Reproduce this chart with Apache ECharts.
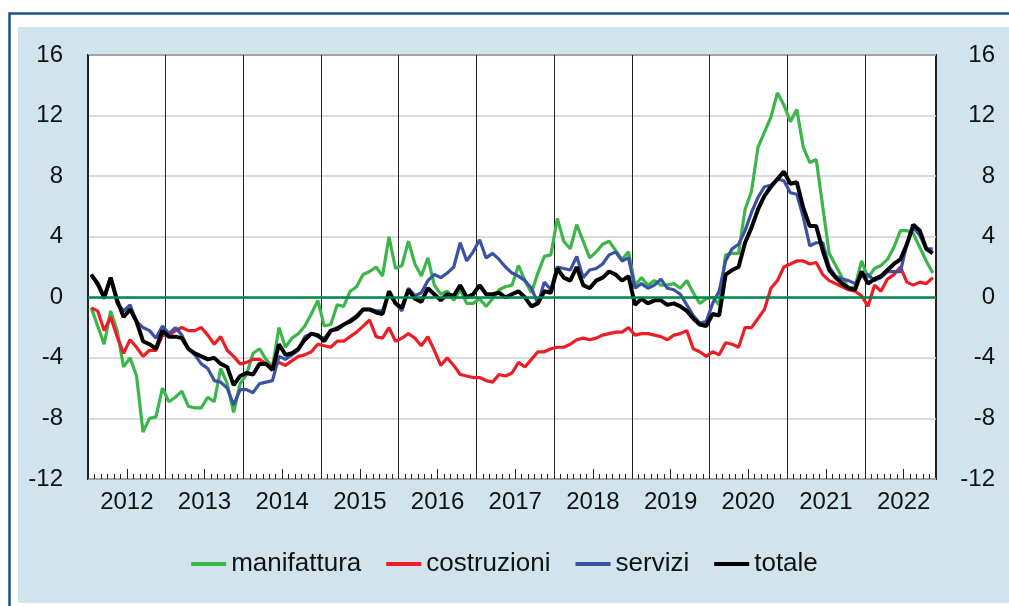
<!DOCTYPE html>
<html>
<head>
<meta charset="utf-8">
<script src="https://cdn.jsdelivr.net/npm/echarts@6.0.0/dist/echarts.min.js"></script>
<style>
  html, body { margin: 0; padding: 0; background: #fff; }
  #chartmain { width: 1009px; height: 606px; }
</style>
</head>
<body>
<div id="chartmain"></div>
<script>
// monthly data, Jan 2012 - Nov 2022
var years = ['2012', '2013', '2014', '2015', '2016', '2017', '2018', '2019', '2020', '2021', '2022'];

var manifattura = [
  -0.7, -1.9, -3.1, -0.9, -2.2, -4.6, -4.0, -5.2, -8.9, -8.0, -7.9, -6.0,
  -6.9, -6.6, -6.2, -7.2, -7.3, -7.3, -6.6, -6.9, -4.7, -5.7, -7.6, -5.7,
  -5.1, -3.7, -3.4, -4.1, -4.6, -2.0, -3.3, -2.7, -2.4, -1.9, -1.1, -0.2,
  -1.9, -1.8, -0.5, -0.6, 0.4, 0.7, 1.5, 1.7, 2.0, 1.4, 4.0, 1.9,
  2.1, 3.7, 2.2, 1.4, 2.6, 0.8, 0.2, 0.4, -0.2, 0.5, -0.4, -0.4,
  -0.1, -0.6, -0.1, 0.5, 0.7, 0.8, 2.1, 1.1, 0.3, 1.6, 2.7, 2.8,
  5.2, 3.7, 3.2, 4.8, 3.7, 2.6, 3.0, 3.5, 3.7, 3.1, 2.5, 3.0,
  0.8, 1.3, 0.8, 1.1, 0.8, 0.8, 0.9, 0.6, 1.1, 0.3, -0.4, -0.1,
  0.0, -0.5, 2.8, 2.9, 2.9, 5.8, 7.0, 9.9, 10.9, 11.9, 13.5, 12.7,
  11.6, 12.4, 9.9, 8.9, 9.1, 6.0, 2.9, 2.1, 1.3, 0.6, 0.7, 2.4,
  1.3, 1.9, 2.1, 2.5, 3.3, 4.4, 4.4, 4.2, 3.3, 2.4, 1.6
];

var costruzioni = [
  -0.7, -0.9, -2.2, -1.3, -2.6, -3.7, -2.8, -3.3, -3.9, -3.5, -3.5, -2.5,
  -2.5, -2.2, -2.0, -2.2, -2.2, -2.0, -2.5, -3.1, -2.6, -3.5, -3.9, -4.4,
  -4.3, -4.1, -4.1, -4.4, -4.6, -4.3, -4.5, -4.2, -3.9, -3.8, -3.6, -3.1,
  -3.2, -3.3, -2.9, -2.9, -2.6, -2.3, -1.9, -1.5, -2.6, -2.7, -2.0, -2.9,
  -2.7, -2.4, -2.7, -3.2, -2.6, -3.5, -4.5, -4.0, -4.5, -5.1, -5.2, -5.3,
  -5.3, -5.5, -5.6, -5.1, -5.2, -5.0, -4.3, -4.6, -4.1, -3.6, -3.6, -3.4,
  -3.3, -3.3, -3.1, -2.8, -2.7, -2.8, -2.7, -2.5, -2.4, -2.3, -2.3, -2.0,
  -2.5, -2.4, -2.4, -2.5, -2.6, -2.8, -2.5, -2.4, -2.2, -3.4, -3.6, -3.9,
  -3.6, -3.8, -3.0, -3.1, -3.3, -2.0, -2.0, -1.4, -0.8, 0.6, 1.1, 2.0,
  2.2, 2.4, 2.4, 2.2, 2.3, 1.5, 1.1, 0.9, 0.7, 0.5, 0.4, 0.1,
  -0.6, 0.8, 0.4, 1.2, 1.5, 2.0, 1.0, 0.8, 1.0, 0.9, 1.3
];

var servizi = [
  1.5, 0.8, -0.1, 1.3, -0.4, -0.9, -0.5, -1.6, -2.0, -2.2, -2.7, -1.9,
  -2.4, -2.0, -2.5, -3.4, -3.8, -4.4, -4.7, -5.5, -5.6, -6.0, -7.1, -6.1,
  -6.1, -6.3, -5.7, -5.6, -5.5, -3.9, -4.1, -3.8, -3.5, -2.6, -2.4, -2.6,
  -2.7, -2.2, -2.0, -1.8, -1.5, -1.2, -0.8, -0.8, -0.9, -0.9, 0.3, -0.4,
  -0.9, 0.6, 0.1, 0.3, 1.1, 1.5, 1.3, 1.6, 2.0, 3.6, 2.4, 3.0,
  3.8, 2.6, 2.9, 2.5, 2.0, 1.6, 1.4, 1.1, 0.6, -0.4, 1.0, 0.5,
  2.0, 1.9, 1.8, 2.7, 1.3, 1.8, 1.9, 2.2, 2.8, 3.0, 2.4, 2.6,
  0.6, 0.9, 0.6, 0.8, 1.2, 0.6, 0.5, 0.2, -0.5, -1.2, -1.7, -1.6,
  -0.4, 0.4, 2.4, 3.2, 3.5, 4.4, 5.6, 6.6, 7.3, 7.4, 7.8, 7.7,
  6.9, 6.8, 5.3, 3.4, 3.6, 3.6, 2.0, 1.4, 1.2, 1.1, 0.9, 1.4,
  1.5, 1.1, 1.3, 1.7, 1.7, 1.7, 3.5, 4.6, 4.1, 3.2, 3.2
];

var totale = [
  1.5, 0.9, 0.0, 1.3, -0.2, -1.3, -0.8, -1.6, -2.9, -3.1, -3.4, -2.2,
  -2.6, -2.6, -2.7, -3.4, -3.7, -3.9, -4.1, -4.0, -4.4, -4.6, -5.8, -5.2,
  -5.0, -5.1, -4.4, -4.4, -4.8, -3.1, -3.8, -3.7, -3.4, -2.8, -2.4, -2.5,
  -2.9, -2.2, -2.1, -1.8, -1.6, -1.3, -0.8, -0.8, -1.0, -1.1, 0.4, -0.4,
  -0.7, 0.5, -0.1, -0.3, 0.6, 0.2, -0.2, 0.2, 0.1, 0.8, 0.0, 0.2,
  0.8, 0.2, 0.2, 0.3, 0.0, 0.2, 0.4, 0.0, -0.6, -0.4, 0.4, 0.3,
  1.9, 1.3, 1.1, 2.0, 0.8, 0.6, 1.1, 1.3, 1.7, 1.5, 1.1, 1.4,
  -0.5, -0.1, -0.4, -0.2, -0.2, -0.5, -0.4, -0.6, -0.9, -1.4, -1.8, -1.9,
  -1.1, -1.2, 1.5, 1.8, 2.0, 3.6, 4.6, 5.8, 6.7, 7.3, 7.8, 8.3,
  7.5, 7.6, 5.9, 4.7, 4.7, 3.1, 1.8, 1.3, 0.9, 0.6, 0.5, 1.7,
  0.9, 1.2, 1.4, 1.8, 2.2, 2.5, 3.5, 4.8, 4.4, 3.2, 2.9
];

var nMonths = totale.length;
var font = "'Liberation Sans', Arial, sans-serif";

// month i sits in the middle of its slot
function toPoints(arr) {
  return arr.map(function (v, i) { return [i + 0.5, v]; });
}

function lineSeries(name, arr, color, width) {
  return {
    name: name,
    type: 'line',
    xAxisIndex: 0,
    yAxisIndex: 0,
    data: toPoints(arr),
    symbol: 'none',
    lineStyle: { color: color, width: width },
    itemStyle: { color: color }
  };
}

var series = [
  lineSeries('manifattura', manifattura, '#3cb54a', 3.2),
  lineSeries('costruzioni', costruzioni, '#ee1d25', 3.2),
  lineSeries('servizi', servizi, '#3a52a3', 3.2),
  lineSeries('totale', totale, '#000000', 4)
];
series[3].markLine = {
  silent: true,
  symbol: 'none',
  label: { show: false },
  lineStyle: { color: '#00874b', width: 2.5, type: 'solid' },
  data: [{ yAxis: 0 }]
};

var yLabel = { fontSize: 24, color: '#111', fontFamily: font };

var option = {
  animation: false,
  backgroundColor: '#fff',
  graphic: [
    {
      type: 'rect', z: -10, silent: true,
      shape: { x: 9.5, y: 13.5, width: 1100, height: 700 },
      style: { fill: '#fff', stroke: '#1d4f8f', lineWidth: 2.5 }
    },
    {
      type: 'rect', z: -9, silent: true,
      shape: { x: 18, y: 27, width: 1000, height: 576 },
      style: { fill: '#d1e4ed' }
    }
  ],
  grid: {
    left: 88, top: 55, width: 848, height: 424,
    show: true, backgroundColor: '#fff',
    borderColor: '#222', borderWidth: 2
  },
  legend: {
    bottom: 24,
    left: 'center',
    icon: 'rect',
    itemWidth: 35,
    itemHeight: 4,
    itemGap: 25,
    textStyle: { fontSize: 26, color: '#111', fontFamily: font },
    data: ['manifattura', 'costruzioni', 'servizi', 'totale']
  },
  xAxis: [
    {
      type: 'value', min: 0, max: nMonths, interval: 6,
      axisLine: { show: false, onZero: false },
      splitLine: { show: false },
      axisTick: { show: true, inside: true, length: 10, lineStyle: { color: '#222', width: 1 } },
      minorTick: { show: true, splitNumber: 6, length: 5, lineStyle: { color: '#222', width: 1 } },
      axisLabel: {
        margin: 11, fontSize: 24, color: '#111', fontFamily: font,
        formatter: function (v) {
          if (v % 12 === 6) return years[(v - 6) / 12];
          return '';
        }
      }
    },
    {
      type: 'value', min: 0, max: nMonths, interval: 12,
      axisLine: { show: false, onZero: false },
      axisTick: { show: false },
      axisLabel: { show: false },
      splitLine: { show: true, lineStyle: { color: '#222', width: 1 } }
    }
  ],
  yAxis: [
    {
      type: 'value', position: 'left', min: -12, max: 16, interval: 4,
      axisLine: { show: false }, axisTick: { show: false },
      splitLine: { show: true, lineStyle: { color: '#cfcfcf', width: 1.5 } },
      axisLabel: Object.assign({ margin: 25 }, yLabel)
    },
    {
      type: 'value', position: 'right', min: -12, max: 16, interval: 4,
      axisLine: { show: false }, axisTick: { show: false },
      splitLine: { show: false },
      axisLabel: Object.assign({ margin: 59, align: 'right' }, yLabel)
    }
  ],
  series: series
};

var myChart = echarts.init(document.getElementById('chartmain'));
myChart.setOption(option);
</script>
</body>
</html>
